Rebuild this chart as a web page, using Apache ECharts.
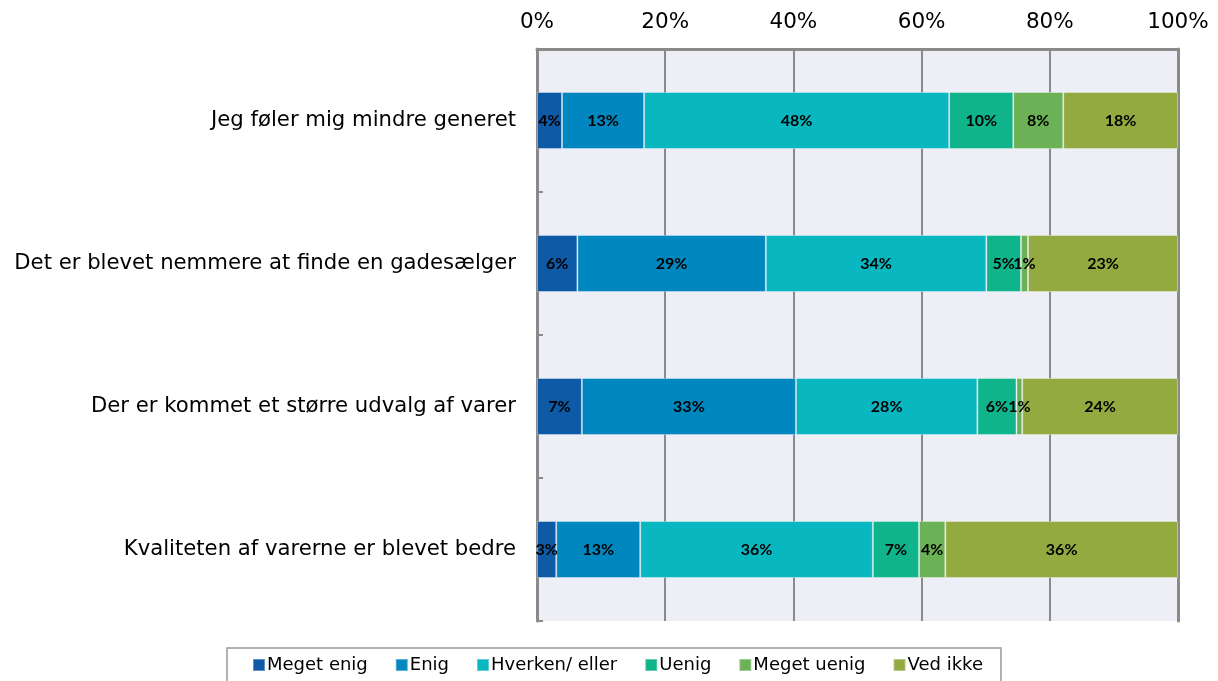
<!DOCTYPE html>
<html>
<head>
<meta charset="utf-8">
<script src="https://cdn.jsdelivr.net/npm/echarts@6/dist/echarts.min.js"></script>
<style>
html,body{margin:0;padding:0;background:#fff;}
#c{width:1218px;height:681px;}
</style>
</head>
<body>
<div id="c"></div>
<script>
const categories = [
  "Jeg føler mig mindre generet",
  "Det er blevet nemmere at finde en gadesælger",
  "Der er kommet et større udvalg af varer",
  "Kvaliteten af varerne er blevet bedre"
];
const seriesNames = ["Meget enig", "Enig", "Hverken/ eller", "Uenig", "Meget uenig", "Ved ikke"];
const megetEnig  = [3.9, 6.3, 7.0, 3.0];
const enig       = [12.8, 29.4, 33.4, 13.1];
const hverken    = [47.6, 34.4, 28.3, 36.3];
const uenig      = [10.0, 5.4, 6.1, 7.2];
const megetUenig = [7.8, 1.1, 0.9, 4.1];
const vedIkke    = [17.9, 23.4, 24.3, 36.3];
const xTicks = [0, 20, 40, 60, 80, 100];

const colors = ["#0E5AA7", "#0087BF", "#09B7C0", "#10B48A", "#6BB155", "#93AA41"];
const values = [megetEnig, enig, hverken, uenig, megetUenig, vedIkke];

const chart = echarts.init(document.getElementById('c'));
chart.setOption({
  animation: false,
  color: colors,
  grid: {
    left: 537, right: 40, top: 49, bottom: 60,
    show: true, backgroundColor: '#EEEEF6',
    borderColor: '#8a8a8a', borderWidth: 0
  },
  legend: {
    left: 227, top: 648,
    itemWidth: 12, itemHeight: 12, itemGap: 27,
    icon: 'rect',
    borderColor: '#999', borderWidth: 1.5,
    padding: [8, 18, 12, 25],
    textStyle: { fontFamily: 'DejaVu Sans', fontSize: 18, color: '#000', padding: [0, 0, 0, -3] },
    data: seriesNames
  },
  xAxis: {
    type: 'value', position: 'top', min: 0, max: 100, interval: 20,
    axisLabel: {
      fontFamily: 'DejaVu Sans', fontSize: 21.5, color: '#000', margin: 16,
      formatter: v => xTicks.includes(v) ? v + '%' : ''
    },
    axisLine: { show: true, lineStyle: { color: '#8a8a8a', width: 3 } },
    axisTick: { show: false },
    splitLine: { show: true, lineStyle: { color: '#8a8a8a', width: 2 } }
  },
  yAxis: [{
    type: 'category', inverse: true, data: categories,
    axisLabel: { fontFamily: 'DejaVu Sans', fontSize: 21.2, color: '#000', margin: 21 },
    axisLine: { show: true, lineStyle: { color: '#8a8a8a', width: 3 } },
    axisTick: { show: true, inside: true, length: 6, lineStyle: { color: '#8a8a8a', width: 2 } }
  }, {
    type: 'category', inverse: true, data: categories, position: 'right',
    axisLabel: { show: false }, axisTick: { show: false },
    axisLine: { show: true, lineStyle: { color: '#8a8a8a', width: 3 } }
  }],
  series: seriesNames.map((name, i) => ({
    name, type: 'bar', stack: 'total', barWidth: 57,
    data: values[i],
    itemStyle: { color: colors[i], borderColor: 'rgba(255,255,255,0.35)', borderWidth: 1 },
    label: {
      show: true, position: 'inside', color: '#000',
      fontFamily: 'Lato', fontWeight: 'bold', fontSize: 16,
      formatter: p => Math.round(p.value) + '%'
    }
  }))
});
</script>
</body>
</html>
